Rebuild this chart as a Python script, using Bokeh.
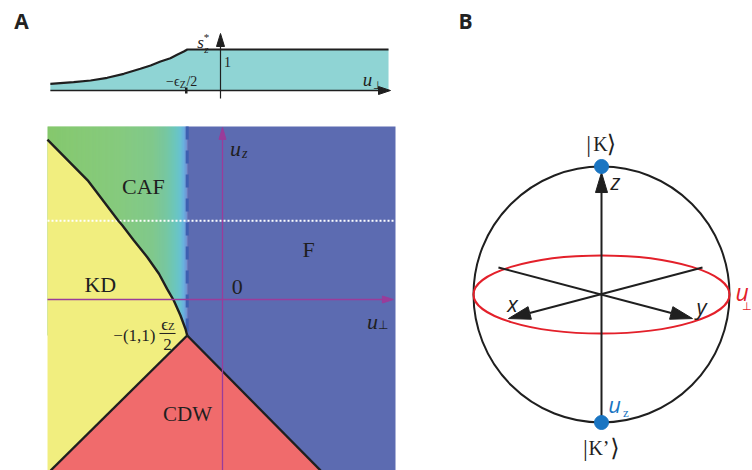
import numpy as np
from bokeh.plotting import figure
from bokeh.layouts import row, column
from bokeh.models import Range1d
from bokeh.core.properties import value
from bokeh.embed import file_html
from bokeh.resources import INLINE

# ---------------- DATA ----------------
# Panel A, main phase diagram; u_perp and u_z in units of eps_Z/2
kd_boundary_u = [-4.96, -3.82, -2.95, -2.84, -2.51, -2.13, -1.80, -1.57, -1.38, -1.19, -1.05, -1.0]
kd_boundary_uz = [4.44, 3.31, 2.19, 2.06, 1.64, 1.175, 0.714, 0.297, -0.028, -0.444, -0.814, -1.0]
cdw_left_u = [-1.0, -4.87]
cdw_left_uz = [-1.0, -4.75]
cdw_right_u = [-1.0, 2.78]
cdw_right_uz = [-1.0, -4.75]
caf_f_u = -1.0            # dashed CAF / F boundary
cut_uz = 2.19             # white dotted cut
panel_u = [-4.957, 4.901]
panel_uz = [-4.75, 4.806]
phase_names = ["CAF", "KD", "F", "CDW", "0"]
phase_u = [-2.24, -3.46, 2.44, -0.99, 0.42]
phase_uz = [3.14, 0.42, 1.39, -3.19, 0.36]
grad_stop_u = [-4.96, -3.0, -2.0, -1.6, -1.35, -1.2, -1.1, -1.0]
grad_stop_col = ["#7cc462", "#78c46e", "#72c27e", "#68c196", "#5cc0b4", "#58bccb", "#5aa8dc", "#6385cc"]

# Panel A, inset: s_z* versus u_perp
inset_u = [-4.82, -4.16, -3.68, -3.21, -2.74, -2.27, -1.98, -1.70, -1.42, -1.23, -1.04, -0.94, 4.76]
inset_s = [0.163, 0.203, 0.244, 0.310, 0.407, 0.529, 0.610, 0.707, 0.787, 0.870, 0.951, 1.0, 1.0]
inset_tick_u = -0.97

# Panel B: Bloch sphere
pole_y = [1.0, -1.0]
equator_height = 0.61

YELLOW = "#f1ee7f"
RED = "#f06b6c"
BLUE = "#5c6bb1"
CYAN = "#8fd4d4"
PURPLE = "#9a3c9a"
INK = "#1f1f1f"
SERIF = "Liberation Serif"
SANS = "Open Sans"


def mkfig(w, h, xr, yr):
    p = figure(width=w, height=h, x_range=Range1d(*xr), y_range=Range1d(*yr),
               output_backend="svg", toolbar_location=None, min_border=0,
               x_axis_location=None, y_axis_location=None)
    p.grid.visible = False
    p.outline_line_color = None
    p.background_fill_color = "white"
    p.border_fill_color = "white"
    return p


def txt(p, x, y, s, size, font=SERIF, style="normal", color=INK, align="center", baseline="middle"):
    p.text(x=[x], y=[y], text=[s], text_font=value(font), text_font_size=value(f"{size}px"),
           text_font_style=style, text_color=color, text_align=align, text_baseline=baseline)


def arrow(p, start, tip, L, W, sx, sy, color, lw):
    fx, fy = start[0] * sx, start[1] * sy
    tx, ty = tip[0] * sx, tip[1] * sy
    d = np.hypot(tx - fx, ty - fy)
    dx, dy = (tx - fx) / d, (ty - fy) / d
    nx, ny = -dy, dx
    bx, by = tx - L * dx, ty - L * dy
    p.line([start[0], bx / sx], [start[1], by / sy], line_color=color, line_width=lw)
    xs = [tx / sx, (bx + W * nx) / sx, (bx - W * nx) / sx]
    ys = [ty / sy, (by + W * ny) / sy, (by - W * ny) / sy]
    p.patch(xs, ys, fill_color=color, line_color=color, line_width=1)


# ---------------- Panel A inset ----------------
SXI, SYI = 35.3, 41.0
fa1 = mkfig(440, 110, ((0 - 220) / SXI, (440 - 220) / SXI), ((90 - 110) / SYI, (90 - 0) / SYI))
fa1.patch(inset_u + [inset_u[-1], inset_u[0]], inset_s + [0, 0], fill_color=CYAN, line_color=None)
fa1.line(inset_u, inset_s, line_color=INK, line_width=2.2)
arrow(fa1, (inset_u[0], 0), (4.816, 0), 12, 4, SXI, SYI, INK, 1.4)
arrow(fa1, (0, -0.195), (0, 1.39), 13, 4, SXI, SYI, INK, 1.2)
fa1.line([inset_tick_u, inset_tick_u], [-0.073, 0.073], line_color=INK, line_width=2.5)
txt(fa1, -0.567, 1.171, "s", 17, style="italic")
txt(fa1, -0.40, 1.02, "z", 11, style="italic")
txt(fa1, -0.40, 1.30, "*", 11)
txt(fa1, 0.198, 0.707, "1", 14)
txt(fa1, -1.16, 0.22, "−ϵ", 14, align="right")
txt(fa1, -1.065, 0.15, "Z", 10)
txt(fa1, -0.965, 0.22, "/2", 14, align="left")
txt(fa1, 4.164, 0.268, "u", 19, style="italic")
txt(fa1, 4.448, 0.146, "⊥", 11)
txt(fa1, -5.637, 1.683, "A", 21, font=SANS, style="bold", color="#222222")

# ---------------- Panel A main ----------------
SX, SY = 35.3, 36.0
fa2 = mkfig(440, 360, ((0 - 222) / SX, (440 - 222) / SX), ((299 - 470) / SY, (299 - 110) / SY))

# horizontal colour gradient of the CAF region
edges = np.linspace(panel_u[0], caf_f_u, 141)
rgb = np.array([[int(c[i:i + 2], 16) for i in (1, 3, 5)] for c in grad_stop_col], dtype=float)
mids = 0.5 * (edges[:-1] + edges[1:])
cols = ["#%02x%02x%02x" % tuple(int(round(np.interp(m, grad_stop_u, rgb[:, k]))) for k in range(3)) for m in mids]
fa2.quad(left=edges[:-1], right=edges[1:] + 0.01, bottom=-1.0, top=panel_uz[1],
         fill_color=cols, line_color=None)

# KD (yellow)
kd_x = kd_boundary_u + [cdw_left_u[1], panel_u[0], panel_u[0]]
kd_y = kd_boundary_uz + [cdw_left_uz[1], panel_uz[0], kd_boundary_uz[0]]
fa2.patch(kd_x, kd_y, fill_color=YELLOW, line_color=None)
# CDW (red)
fa2.patch([cdw_left_u[0], cdw_right_u[1], cdw_left_u[1]],
          [cdw_left_uz[0], cdw_right_uz[1], cdw_left_uz[1]], fill_color=RED, line_color=None)
# F (blue)
fa2.patch([caf_f_u, panel_u[1], panel_u[1], cdw_right_u[1], cdw_right_u[0]],
          [panel_uz[1], panel_uz[1], panel_uz[0], cdw_right_uz[1], cdw_right_uz[0]],
          fill_color=BLUE, line_color=None)

fa2.line([caf_f_u, caf_f_u], [panel_uz[1], -1.0], line_color="#3d5fb0", line_width=3, line_dash="13 11")
fa2.line(panel_u, [cut_uz, cut_uz], line_color="white", line_width=2, line_dash="2 2")
fa2.line(kd_boundary_u, kd_boundary_uz, line_color=INK, line_width=2.4)
fa2.line(cdw_left_u, cdw_left_uz, line_color=INK, line_width=2.4)
fa2.line(cdw_right_u, cdw_right_uz, line_color=INK, line_width=2.4)

arrow(fa2, (0, panel_uz[0]), (0, 4.78), 12, 3.5, SX, SY, PURPLE, 1.3)
arrow(fa2, (panel_u[0], 0), (4.84, 0), 11, 3.5, SX, SY, PURPLE, 1.3)

for name, u, uz in zip(phase_names, phase_u, phase_uz):
    txt(fa2, u, uz, name, 22 if name != "CDW" else 21)
txt(fa2, 0.37, 4.19, "u", 22, style="italic")
txt(fa2, 0.63, 4.06, "z", 14, style="italic")
txt(fa2, 4.25, -0.61, "u", 22, style="italic")
txt(fa2, 4.56, -0.72, "⊥", 12)
txt(fa2, -1.898, -1.0, "−(1,1)", 17, align="right")
txt(fa2, -1.64, -0.69, "ϵ", 17)
txt(fa2, -1.45, -0.74, "Z", 11)
fa2.line([-1.785, -1.33], [-0.944, -0.944], line_color=INK, line_width=1)
txt(fa2, -1.56, -1.25, "2", 17)

# ---------------- Panel B ----------------
R = 128.0
fb = mkfig(312, 470, ((440 - 601) / R, (752 - 601) / R), ((294 - 470) / R, (294 - 0) / R))
fb.ellipse(x=[0], y=[0], width=2, height=2, fill_color=None, line_color=INK, line_width=2)
fb.ellipse(x=[0], y=[0], width=2, height=equator_height, fill_color=None, line_color="#e3202a", line_width=2)
arrow(fb, (0, pole_y[1]), (0, 0.953), 20, 6, R, R, INK, 2)
arrow(fb, (0.789, 0.211), (-0.727, -0.188), 22, 6.5, R, R, INK, 2)
arrow(fb, (-0.805, 0.211), (0.711, -0.188), 22, 6.5, R, R, INK, 2)
fb.scatter(x=[0, 0], y=pole_y, size=14, fill_color="#1a75c2", line_color="#1a75c2")
txt(fb, -1.0625, 2.133, "B", 21, font=SANS, style="bold", color="#222222")
# |K>
txt(fb, -0.10, 1.176, "|", 24)
txt(fb, -0.008, 1.176, "K", 20)
txt(fb, 0.078, 1.176, "⟩", 24, font="DejaVu Serif")
# |K'>
txt(fb, -0.125, -1.203, "|", 24)
txt(fb, -0.02, -1.203, "K’", 20)
txt(fb, 0.105, -1.203, "⟩", 24, font="DejaVu Serif")
txt(fb, 0.109, 0.883, "z", 22, font=SANS, style="italic")
txt(fb, -0.695, -0.07, "x", 22, font=SANS, style="italic")
txt(fb, 0.781, -0.086, "y", 22, font=SANS, style="italic")
txt(fb, 0.102, -0.859, "u", 22, font=SANS, style="italic", color="#1a75c2")
txt(fb, 0.19, -0.925, "z", 13, color="#1a75c2")
txt(fb, 1.047, 0.023, "u", 23, font=SANS, style="italic", color="#e3202a", align="left")
txt(fb, 1.10, -0.09, "⊥", 11, color="#e3202a", align="left")

layout = row(column(fa1, fa2), fb)
open("out.html", "w").write(file_html(layout, INLINE))
